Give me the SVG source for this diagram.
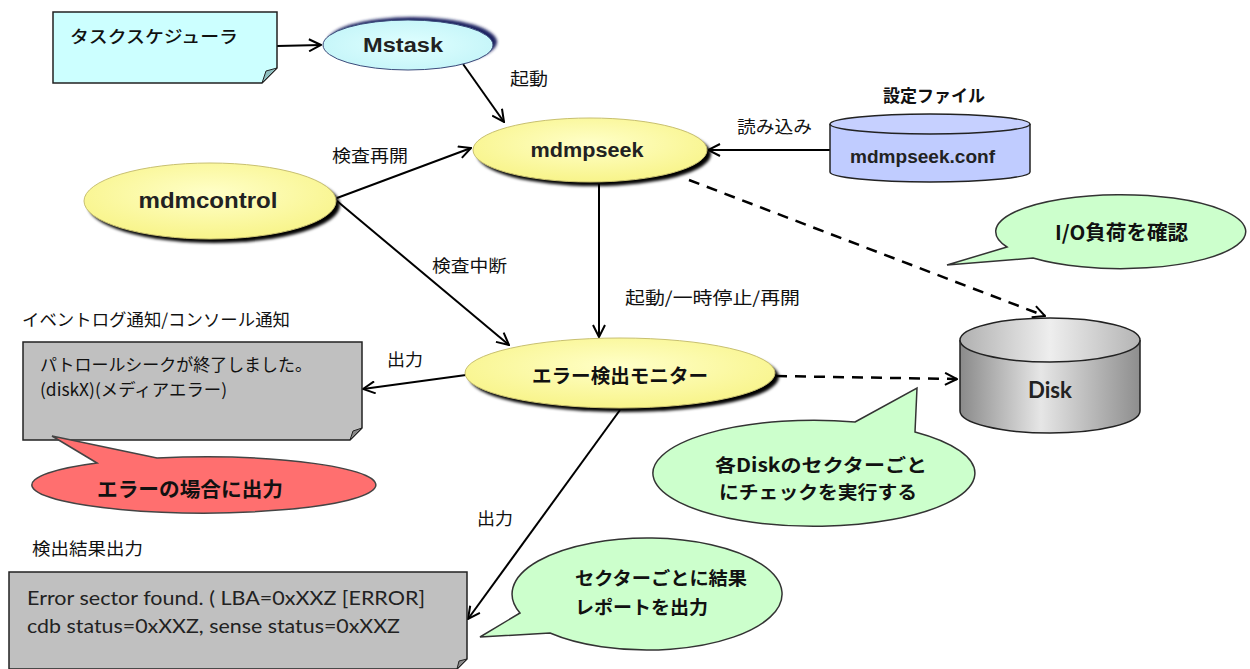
<svg xmlns="http://www.w3.org/2000/svg" width="1250" height="669" viewBox="0 0 1250 669">
<style>
.lbl{font-family:"Noto Sans CJK JP","Liberation Sans",sans-serif;font-size:17px;fill:#111}
.jb{font-family:"Noto Sans CJK JP","Liberation Sans",sans-serif;font-weight:bold;fill:#111}
.lb{font-family:"Liberation Sans",Arial,sans-serif;font-weight:bold;fill:#222}
.cal{font-family:Lato,"Open Sans",sans-serif;fill:#222}
.edge{stroke:#000;stroke-width:2;fill:none}
.dash{stroke:#000;stroke-width:2.5;fill:none;stroke-dasharray:11 8}
.bub{fill:#CCFFCC;stroke:#333;stroke-width:1.5}
.shadow{fill:#000;filter:url(#blur)}
</style>
<defs>
<marker id="arr" viewBox="0 0 14 14" refX="13" refY="7" markerWidth="14" markerHeight="14" markerUnits="userSpaceOnUse" orient="auto">
<path d="M1,1 L13,7 L1,13" fill="none" stroke="#000" stroke-width="2"/>
</marker>
<filter id="blur" x="-10%" y="-20%" width="120%" height="140%"><feGaussianBlur stdDeviation="1.5"/></filter>
<radialGradient id="yel" cx="50%" cy="40%" r="60%">
<stop offset="0" stop-color="#FFFFC8"/><stop offset="1" stop-color="#F8F48A"/>
</radialGradient>
<radialGradient id="cyan" cx="50%" cy="50%" r="60%">
<stop offset="0" stop-color="#E0FFFF"/><stop offset="1" stop-color="#C2F4F8"/>
</radialGradient>
<linearGradient id="gray" x1="0" y1="0" x2="1" y2="0">
<stop offset="0" stop-color="#8A8A8A"/><stop offset="0.45" stop-color="#E6E6E6"/><stop offset="1" stop-color="#8E8E8E"/>
</linearGradient>
<linearGradient id="graytop" x1="0" y1="0" x2="1" y2="0">
<stop offset="0" stop-color="#B0B0B0"/><stop offset="0.5" stop-color="#EEEEEE"/><stop offset="1" stop-color="#B4B4B4"/>
</linearGradient>
</defs>

<g id="connectors">
<line class="edge" x1="277" y1="46" x2="321" y2="45" marker-end="url(#arr)"/>
<line class="edge" x1="463" y1="64" x2="504" y2="122" marker-end="url(#arr)"/>
<text class="lbl" x="510" y="85" font-size="18" textLength="38" lengthAdjust="spacingAndGlyphs">起動</text>
<line class="edge" x1="337" y1="198" x2="471" y2="148" marker-end="url(#arr)"/>
<text class="lbl" x="332" y="162" font-size="18" textLength="76" lengthAdjust="spacingAndGlyphs">検査再開</text>
<line class="edge" x1="337" y1="201" x2="509" y2="345" marker-end="url(#arr)"/>
<text class="lbl" x="432" y="272" font-size="18" textLength="75" lengthAdjust="spacingAndGlyphs">検査中断</text>
<line class="edge" x1="830" y1="150" x2="708" y2="150" marker-end="url(#arr)"/>
<text class="lbl" x="737" y="133" font-size="18" textLength="75" lengthAdjust="spacingAndGlyphs">読み込み</text>
<line class="edge" x1="599" y1="184" x2="599" y2="337" marker-end="url(#arr)"/>
<text class="lbl" x="625" y="304" font-size="18" textLength="175" lengthAdjust="spacingAndGlyphs">起動/一時停止/再開</text>
<line class="dash" x1="689" y1="180" x2="1045" y2="316" marker-end="url(#arr)"/>
<line class="dash" x1="776" y1="376" x2="957" y2="379" marker-end="url(#arr)"/>
<line class="edge" x1="466" y1="375" x2="363" y2="389" marker-end="url(#arr)"/>
<text class="lbl" x="387" y="366" font-size="18" textLength="36" lengthAdjust="spacingAndGlyphs">出力</text>
<line class="edge" x1="620" y1="410" x2="468" y2="619" marker-end="url(#arr)"/>
<text class="lbl" x="477" y="525" font-size="18" textLength="36" lengthAdjust="spacingAndGlyphs">出力</text>
</g>

<g id="taskscheduler">
<path d="M53,12 H277 V68 L262,83 H53 Z" fill="#CCFFFF" stroke="#222" stroke-width="1.5"/>
<path d="M262,83 L266,71 L277,68 Z" fill="#8FBFC0" stroke="#222" stroke-width="1"/>
<text class="lbl" x="70" y="43" font-size="19" font-weight="500" textLength="168" lengthAdjust="spacingAndGlyphs">タスクスケジューラ</text>
</g>

<g id="mstask">
<ellipse cx="412" cy="42" rx="85" ry="25" fill="#1A2060" filter="url(#blur)"/>
<ellipse cx="408" cy="45" rx="85" ry="25" fill="url(#cyan)" stroke="#3A4A7A" stroke-width="1"/>
<text class="lb" x="403" y="52" font-size="20" text-anchor="middle" textLength="80" lengthAdjust="spacingAndGlyphs">Mstask</text>
</g>

<g id="mdmpseek">
<ellipse class="shadow" cx="594" cy="154" rx="117" ry="32"/>
<ellipse cx="590" cy="150" rx="117" ry="32" fill="url(#yel)" stroke="#C8C070" stroke-width="1"/>
<text class="lb" x="587" y="157" font-size="20" text-anchor="middle" textLength="113" lengthAdjust="spacingAndGlyphs">mdmpseek</text>
</g>

<g id="mdmcontrol">
<ellipse class="shadow" cx="214" cy="205" rx="126" ry="38"/>
<ellipse cx="210" cy="201" rx="126" ry="38" fill="url(#yel)" stroke="#C8C070" stroke-width="1"/>
<text class="lb" x="208" y="208" font-size="22" text-anchor="middle" textLength="139" lengthAdjust="spacingAndGlyphs">mdmcontrol</text>
</g>

<g id="configfile">
<text class="jb" x="883" y="102" font-size="17" textLength="102" lengthAdjust="spacingAndGlyphs">設定ファイル</text>
<path d="M830,124 V172 A100 10 0 0 0 1030,172 V124" fill="#C0CCFF" stroke="#222" stroke-width="1.5"/>
<ellipse cx="930" cy="124" rx="100" ry="10" fill="#C6D0FF" stroke="#222" stroke-width="1.5"/>
<text class="lb" x="850" y="163" font-size="18" textLength="145" lengthAdjust="spacingAndGlyphs">mdmpseek.conf</text>
</g>

<g id="iocheck">
<path class="bub" d="M1007,247 L947,265 L1033,258 A125 37 0 1 0 1007,247 Z"/>
<text class="jb" x="1055" y="240" font-size="20" textLength="133" lengthAdjust="spacingAndGlyphs">I/O負荷を確認</text>
</g>

<g id="disk">
<path d="M960,340 V411 A90 22 0 0 0 1140,411 V340" fill="url(#gray)" stroke="#222" stroke-width="1.5"/>
<ellipse cx="1050" cy="340" rx="90" ry="22" fill="url(#graytop)" stroke="#222" stroke-width="1.5"/>
<text class="cal" x="1050" y="398" font-size="22" font-weight="bold" text-anchor="middle" textLength="44" lengthAdjust="spacingAndGlyphs">Disk</text>
</g>

<g id="errormonitor">
<ellipse class="shadow" cx="624" cy="377" rx="155" ry="35"/>
<ellipse cx="620" cy="373" rx="155" ry="35" fill="url(#yel)" stroke="#C8C070" stroke-width="1"/>
<text class="jb" x="532" y="383" font-size="19" textLength="176" lengthAdjust="spacingAndGlyphs">エラー検出モニター</text>
</g>

<g id="eventlog">
<text class="lbl" x="22" y="326" textLength="268" lengthAdjust="spacingAndGlyphs">イベントログ通知/コンソール通知</text>
<path d="M23,342 H362 V428 L350,440 H23 Z" fill="#C0C0C0" stroke="#222" stroke-width="1.5"/>
<path d="M350,440 L353,431 L362,428 Z" fill="#8A8A8A" stroke="#222" stroke-width="1"/>
<text class="lbl" x="40" y="371" textLength="272" lengthAdjust="spacingAndGlyphs">パトロールシークが終了しました。</text>
<text class="lbl" x="40" y="396" textLength="187" lengthAdjust="spacingAndGlyphs">(diskX)(メディアエラー)</text>
</g>

<g id="errorcallout">
<path d="M97,463 L52,436 L157,458 A172 28 0 1 1 97,463 Z" fill="#FF6F6F" stroke="#444" stroke-width="1.5"/>
<text class="jb" x="97" y="497" font-size="20" textLength="186" lengthAdjust="spacingAndGlyphs">エラーの場合に出力</text>
</g>

<g id="sectorcheck">
<path class="bub" d="M855,422 L917,388 L915,432 A161 53 0 1 1 855,422 Z"/>
<text class="jb" x="715" y="472" font-size="18.5" textLength="212" lengthAdjust="spacingAndGlyphs">各Diskのセクターごと</text>
<text class="jb" x="719" y="499" font-size="18.5" textLength="198" lengthAdjust="spacingAndGlyphs">にチェックを実行する</text>
</g>

<g id="resultcallout">
<path class="bub" d="M520,613 L480,637 L550,633 A135 56 0 1 0 520,613 Z"/>
<text class="jb" x="575" y="585" font-size="18.5" textLength="172" lengthAdjust="spacingAndGlyphs">セクターごとに結果</text>
<text class="jb" x="575" y="614" font-size="18.5" textLength="133" lengthAdjust="spacingAndGlyphs">レポートを出力</text>
</g>

<g id="resultoutput">
<text class="lbl" x="32" y="555" font-size="18" textLength="111" lengthAdjust="spacingAndGlyphs">検出結果出力</text>
<path d="M9,572 H467 V659 L457,669 H9 Z" fill="#C0C0C0" stroke="#222" stroke-width="1.5"/>
<path d="M457,669 L459,661 L467,659 Z" fill="#8A8A8A" stroke="#222" stroke-width="1"/>
<text class="cal" x="27" y="605" font-size="19" textLength="398" lengthAdjust="spacingAndGlyphs">Error sector found. ( LBA=0xXXZ [ERROR]</text>
<text class="cal" x="27" y="633" font-size="19" textLength="373" lengthAdjust="spacingAndGlyphs">cdb status=0xXXZ, sense status=0xXXZ</text>
</g>
</svg>
